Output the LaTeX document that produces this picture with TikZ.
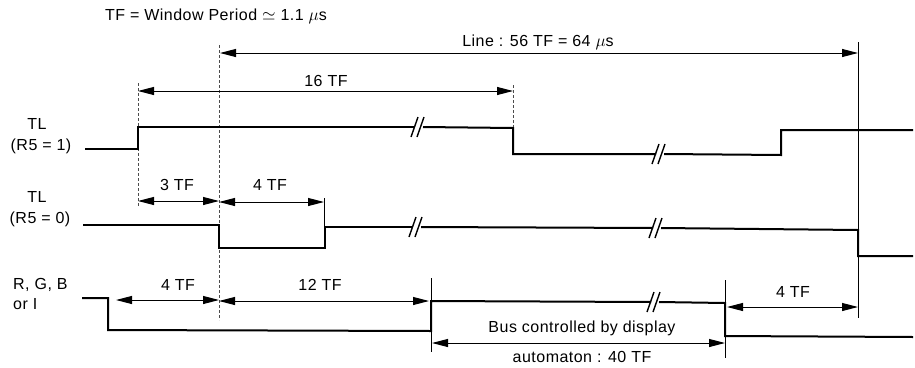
\documentclass[tikz,border=0pt]{standalone}
\usepackage{fontspec}
\setmainfont{Liberation Sans}[LetterSpace=3]
\usetikzlibrary{arrows.meta}
\begin{document}
\begin{tikzpicture}[x=1pt,y=-1pt,
  lbl/.style={font=\fontsize{16}{18}\selectfont, inner sep=0pt},
  sig/.style={line width=2pt, line join=miter},
  dim/.style={line width=1pt, arrows={Triangle[length=16pt,width=8pt]-Triangle[length=16pt,width=8pt]}},
  tickline/.style={line width=0.7pt},
  guide/.style={line width=0.6pt, dash pattern=on 3pt off 2pt, black!70},
  brk/.style={line width=1.4pt}]
\useasboundingbox (0,0) rectangle (915,367);

% ---------- title ----------
\node[lbl] (title) at (216,16) {TF = Window Period $\simeq$ 1.1 $\mu$s};

% ---------- guide / tick lines ----------
\coordinate (g1a) at (138,83);  \coordinate (g1b) at (138,207);
\coordinate (g2a) at (219,45);  \coordinate (g2b) at (219,320);
\coordinate (g3a) at (513,85);  \coordinate (g3b) at (513,128);
\coordinate (g4a) at (324,198); \coordinate (g4b) at (324,227);
\coordinate (g5a) at (858,42);  \coordinate (g5b) at (858,318);
\coordinate (g6a) at (431,278); \coordinate (g6b) at (431,352);
\coordinate (g7a) at (725,280); \coordinate (g7b) at (725,358);
\draw[guide] (g1a) -- (g1b);
\draw[guide] (g2a) -- (g2b);
\draw[guide] (g3a) -- (g3b);
\draw[tickline] (g4a) -- (g4b);
\draw[tickline] (g5a) -- (g5b);
\draw[tickline] (g6a) -- (g6b);
\draw[tickline] (g7a) -- (g7b);

% ---------- dimension arrows ----------
\coordinate (dLa) at (220,53);  \coordinate (dLb) at (858,53);
\draw[dim] (dLa) -- (dLb);
\node[lbl] (tLine) at (538,42) {Line : 56 TF = 64 $\mu$s};

\coordinate (d16a) at (138,91); \coordinate (d16b) at (513,91);
\draw[dim] (d16a) -- (d16b);
\node[lbl] (t16) at (326,81) {16 TF};

\coordinate (d3a) at (138,201); \coordinate (d3b) at (219,201);
\draw[dim] (d3a) -- (d3b);
\node[lbl] (t3) at (177,185) {3 TF};

\coordinate (d4a) at (219,202); \coordinate (d4b) at (324,202);
\draw[dim] (d4a) -- (d4b);
\node[lbl] (t4a) at (270,185) {4 TF};

\coordinate (d4ba) at (116,300); \coordinate (d4bb) at (219,300);
\draw[dim] (d4ba) -- (d4bb);
\node[lbl] (t4b) at (178,285) {4 TF};

\coordinate (d12a) at (219,301); \coordinate (d12b) at (429,301);
\draw[dim] (d12a) -- (d12b);
\node[lbl] (t12) at (320,285) {12 TF};

\coordinate (d4ca) at (727,307); \coordinate (d4cb) at (858,307);
\draw[dim] (d4ca) -- (d4cb);
\node[lbl] (t4c) at (793,292) {4 TF};

\coordinate (dBa) at (432,343); \coordinate (dBb) at (725,343);
\draw[dim] (dBa) -- (dBb);
\node[lbl] (tBus1) at (582,328) {Bus controlled by display};
\node[lbl] (tBus2) at (582,357) {automaton : 40 TF};

% ---------- signal labels ----------
\node[lbl] (tTL1) at (37,124) {TL};
\node[lbl] (tR51) at (41,146) {(R5 = 1)};
\node[lbl] (tTL2) at (37,197) {TL};
\node[lbl] (tR50) at (40,219) {(R5 = 0)};
\node[lbl, anchor=west] (tRGB) at (13,285) {R, G, B};
\node[lbl, anchor=west] (tor) at (13,304) {or I};

% ---------- TL (R5 = 1) ----------
\draw[sig] (85,149) -- (138,149) -- (138,127) -- (415,127);
\draw[sig] (423,127) -- (513,128) -- (513,154) -- (656,154);
\draw[sig] (664,154) -- (781,155) -- (781,130) -- (913,130);
\draw[brk] (411,137) -- (418,117);
\draw[brk] (417,137) -- (424,117);
\draw[brk] (652,164) -- (659,144);
\draw[brk] (658,164) -- (665,144);

% ---------- TL (R5 = 0) ----------
\draw[sig] (83,225) -- (219,225) -- (219,248) -- (325,248) -- (325,227) -- (413,227);
\draw[sig] (421,227) -- (653,228);
\draw[sig] (661,228) -- (858,230) -- (858,256) -- (913,256);
\draw[brk] (409,237) -- (416,217);
\draw[brk] (415,237) -- (422,217);
\draw[brk] (649,238) -- (656,218);
\draw[brk] (655,238) -- (662,218);

% ---------- R, G, B or I ----------
\draw[sig] (82,298) -- (108,298) -- (108,330) -- (431,331) -- (431,301) -- (651,302);
\draw[sig] (659,302) -- (725,303) -- (725,336) -- (913,337);
\draw[brk] (647,312) -- (654,292);
\draw[brk] (653,312) -- (660,292);
\end{tikzpicture}
\end{document}
